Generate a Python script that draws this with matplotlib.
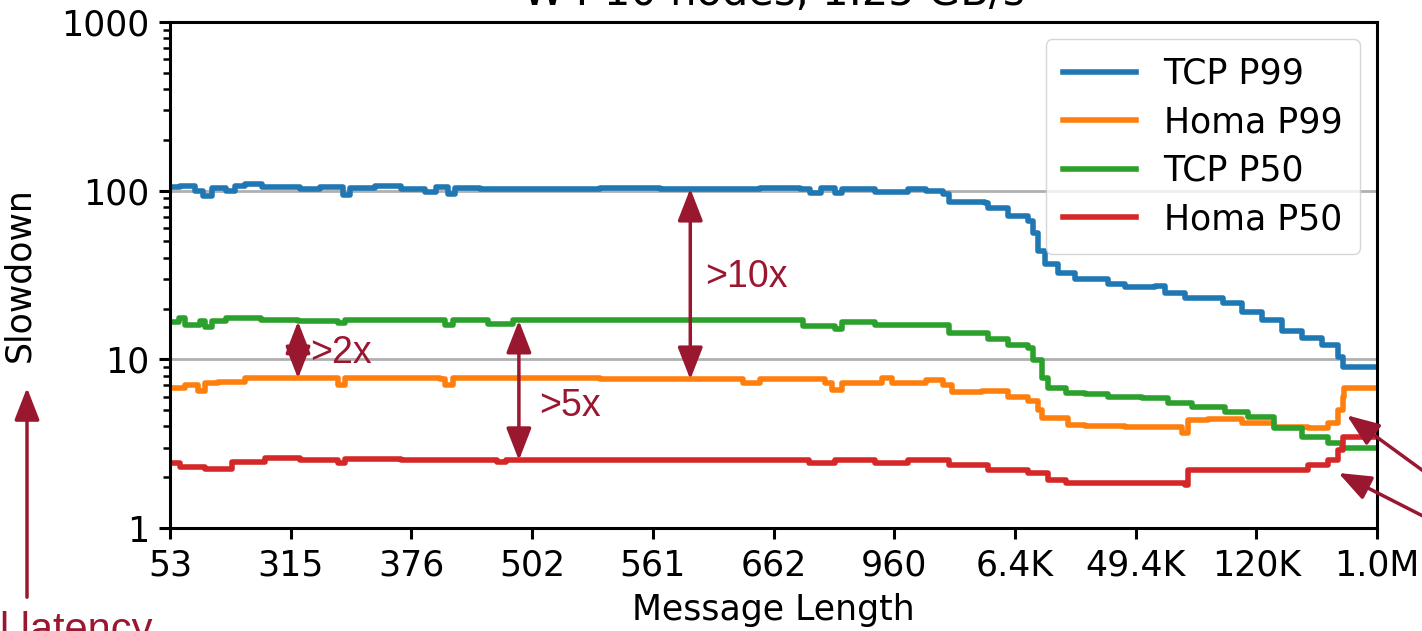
import numpy as np
import matplotlib.pyplot as plt

plt.rcParams["font.family"] = "DejaVu Sans"
plt.rcParams["font.size"] = 25

size_labels = ["53", "315", "376", "502", "561", "662", "960",
               "6.4K", "49.4K", "120K", "1.0M"]

# x = position along the message-length axis (0..1), y = slowdown
tcp_p99_x = [0.000, 0.008, 0.021, 0.027, 0.035, 0.046, 0.054, 0.062, 0.076, 0.108,
             0.124, 0.143, 0.149, 0.170, 0.191, 0.211, 0.220, 0.230, 0.236, 0.257,
             0.273, 0.307, 0.356, 0.406, 0.456, 0.489, 0.522, 0.530, 0.539, 0.551,
             0.557, 0.584, 0.611, 0.626, 0.640, 0.645, 0.675, 0.678, 0.694, 0.711,
             0.715, 0.719, 0.725, 0.736, 0.750, 0.777, 0.791, 0.816, 0.824, 0.841,
             0.872, 0.888, 0.905, 0.921, 0.938, 0.954, 0.968, 0.972, 1.000]
tcp_p99_y = [105, 107, 100, 93, 104, 100, 106, 110, 105, 102,
             105, 94, 104, 106, 102, 98, 105, 96, 104, 103,
             102, 103, 104, 103, 102, 104, 103, 97, 104, 97,
             103, 98, 102, 99, 96, 86, 85, 79, 71, 66.5,
             56, 44, 37, 32.7, 30, 28, 27, 27.4, 24.6, 23,
             21.7, 19, 17, 14.8, 13.3, 12.1, 10.3, 9.0, 9.0]

homa_p99_x = [0.000, 0.012, 0.023, 0.029, 0.040, 0.062, 0.139, 0.145, 0.224, 0.228,
              0.234, 0.356, 0.475, 0.489, 0.543, 0.548, 0.557, 0.590, 0.598, 0.626,
              0.640, 0.648, 0.673, 0.694, 0.711, 0.719, 0.722, 0.744, 0.758, 0.791,
              0.838, 0.843, 0.860, 0.888, 0.915, 0.943, 0.959, 0.968, 0.972, 0.973,
              1.000]
homa_p99_y = [6.8, 7.0, 6.5, 7.2, 7.3, 7.7, 7.0, 7.7, 7.6, 7.0,
              7.7, 7.6, 7.2, 7.6, 7.2, 6.6, 7.2, 7.8, 7.2, 7.5,
              7.0, 6.4, 6.5, 6.0, 5.7, 5.0, 4.5, 4.1, 4.0, 3.95,
              3.65, 4.35, 4.45, 4.2, 3.96, 3.9, 4.2, 5.0, 6.0, 6.74,
              6.74]

tcp_p50_x = [0.000, 0.007, 0.012, 0.025, 0.029, 0.035, 0.046, 0.075, 0.106, 0.139,
             0.145, 0.191, 0.228, 0.234, 0.263, 0.284, 0.356, 0.439, 0.501, 0.524,
             0.551, 0.557, 0.584, 0.611, 0.636, 0.645, 0.673, 0.678, 0.694, 0.711,
             0.715, 0.722, 0.727, 0.742, 0.758, 0.777, 0.805, 0.827, 0.847, 0.874,
             0.893, 0.915, 0.938, 0.959, 0.971, 1.000]
tcp_p50_y = [16.6, 17.7, 15.9, 16.8, 15.5, 16.8, 17.6, 17.0, 16.8, 16.4,
             17.2, 17.0, 16.0, 17.2, 16.3, 17.2, 17.2, 17.2, 17.0, 15.8,
             15.2, 16.6, 16.0, 16.0, 16.0, 14.3, 14.3, 13.2, 12.1, 11.6,
             9.9, 7.8, 6.8, 6.3, 6.2, 6.0, 5.9, 5.5, 5.2, 4.9,
             4.54, 3.9, 3.45, 3.18, 2.97, 2.97]

homa_p50_x = [0.000, 0.008, 0.023, 0.029, 0.051, 0.079, 0.108, 0.139, 0.145, 0.191,
              0.271, 0.278, 0.439, 0.501, 0.529, 0.551, 0.584, 0.611, 0.636, 0.645,
              0.673, 0.678, 0.711, 0.727, 0.742, 0.841, 0.843, 0.895, 0.943, 0.959,
              0.968, 0.972, 1.000]
homa_p50_y = [2.42, 2.3, 2.3, 2.25, 2.45, 2.6, 2.52, 2.42, 2.55, 2.52,
              2.45, 2.52, 2.52, 2.52, 2.42, 2.52, 2.42, 2.52, 2.52, 2.36,
              2.36, 2.2, 2.12, 1.92, 1.85, 1.8, 2.2, 2.2, 2.36, 2.52,
              2.9, 3.45, 3.45]

accent = "#9a1730"

fig = plt.figure(figsize=(14.22, 6.31), dpi=100)
ax = fig.add_axes([0.1196, 0.1632, 0.8488, 0.8019])

lw = 4
ax.plot(tcp_p99_x, tcp_p99_y, drawstyle="steps-post", color="#1f77b4", lw=lw, label="TCP P99")
ax.plot(homa_p99_x, homa_p99_y, drawstyle="steps-post", color="#ff7f0e", lw=lw, label="Homa P99")
ax.plot(tcp_p50_x, tcp_p50_y, drawstyle="steps-post", color="#2ca02c", lw=lw, label="TCP P50")
ax.plot(homa_p50_x, homa_p50_y, drawstyle="steps-post", color="#d62728", lw=lw, label="Homa P50")

ax.set_yscale("log")
ax.set_ylim(1, 1000)
ax.set_xlim(0, 1)
ax.set_yticks([1, 10, 100, 1000])
ax.set_yticklabels(["1", "10", "100", "1000"])
ax.set_xticks(np.linspace(0, 1, len(size_labels)))
ax.set_xticklabels(size_labels)
ax.yaxis.grid(True, which="major", color="#b0b0b0", lw=2)
ax.set_axisbelow(True)

for s in ax.spines.values():
    s.set_linewidth(2.2)
ax.tick_params(which="major", length=8, width=2.2, pad=7)
ax.tick_params(which="minor", length=5, width=1.8)

ax.set_xlabel("Message Length")
ax.xaxis.set_label_coords(0.5, -0.128)
ax.set_ylabel("Slowdown")
ax.yaxis.set_label_coords(-0.111, 0.5)
ax.set_title("W4 10 nodes, 1.25 GB/s", pad=12)

ax.legend(loc="upper right", labelspacing=0.42, borderaxespad=0.5,
          handlelength=2.1, borderpad=0.5)

# double-headed gap arrows
arrow_kw = dict(arrowstyle="<|-|>,head_length=0.9,head_width=0.35", color=accent,
                lw=2.5, mutation_scale=22, shrinkA=0, shrinkB=0)
gaps = [(0.106, 16.8, 7.7, ">2x", 0.116, 10.9),
        (0.289, 17.0, 2.52, ">5x", 0.306, 5.3),
        (0.431, 103, 7.6, ">10x", 0.443, 30.6)]
for x, top, bot, txt, tx, ty in gaps:
    ax.annotate("", xy=(x, top), xytext=(x, bot), arrowprops=arrow_kw)
    ax.text(tx, ty, txt, color=accent, fontsize=27, family="Liberation Sans",
            va="center", ha="left")

# pointers from the right (cut off)
single_kw = dict(arrowstyle="-|>,head_length=0.9,head_width=0.35", color=accent,
                 lw=2.5, mutation_scale=22, shrinkA=0, shrinkB=0)
ax.annotate("", xy=(0.975, 4.66), xytext=(1470, 631 - 505), textcoords="figure pixels",
            arrowprops=single_kw, annotation_clip=False)
ax.annotate("", xy=(0.968, 2.12), xytext=(1470, 631 - 540), textcoords="figure pixels",
            arrowprops=single_kw, annotation_clip=False)

# left arrow and caption (cut off)
fig.patches.append(plt.matplotlib.patches.FancyArrowPatch(
    (27, 631 - 600), (27, 631 - 385), transform=None, arrowstyle=single_kw["arrowstyle"],
    mutation_scale=22, color=accent, lw=2.5))
fig.text(0, 631 - 611, "l latency", color=accent, fontsize=30,
         family="Liberation Sans", transform=None, va="top", ha="left")

fig.savefig("out.png", dpi=100)
